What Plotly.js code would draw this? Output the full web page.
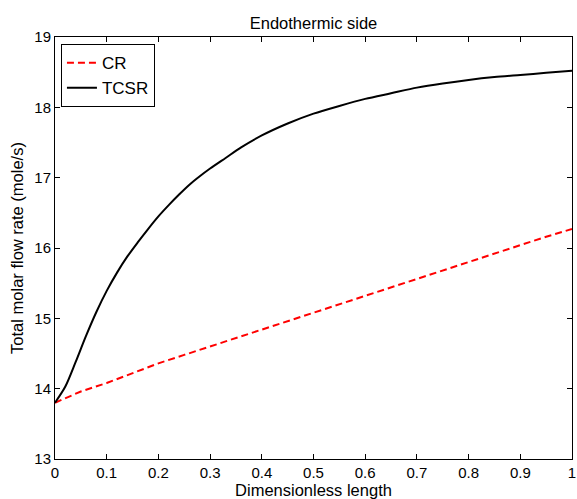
<!DOCTYPE html>
<html>
<head>
<meta charset="utf-8">
<script src="https://cdn.plot.ly/plotly-3.0.1.min.js"></script>
<style>html,body{margin:0;padding:0;background:#fff;}#chart{width:577px;height:499px;}</style>
</head>
<body>
<div id="chart"></div>
<script>
var crX = [0, 0.05, 0.1, 0.15, 0.2, 0.25, 0.3, 0.35, 0.4, 0.45, 0.5, 0.55, 0.6, 0.65, 0.7, 0.75, 0.8, 0.85, 0.9, 0.95, 1.0];
var crY = [13.80, 13.96, 14.08, 14.22, 14.36, 14.48, 14.60, 14.72, 14.84, 14.96, 15.08, 15.20, 15.32, 15.44, 15.56, 15.68, 15.81, 15.93, 16.05, 16.16, 16.27];
var tcsrX = [0, 0.02, 0.04, 0.06, 0.08, 0.10, 0.12, 0.14, 0.16, 0.18, 0.20, 0.22, 0.24, 0.26, 0.28, 0.30, 0.33, 0.36, 0.40, 0.45, 0.50, 0.55, 0.60, 0.65, 0.70, 0.75, 0.80, 0.85, 0.90, 0.95, 1.0];
var tcsrY = [13.80, 14.03, 14.38, 14.75, 15.09, 15.39, 15.65, 15.88, 16.08, 16.27, 16.45, 16.61, 16.76, 16.90, 17.02, 17.13, 17.28, 17.43, 17.60, 17.77, 17.91, 18.02, 18.12, 18.20, 18.28, 18.34, 18.39, 18.43, 18.46, 18.49, 18.52];
var xTicks = [0, 0.1, 0.2, 0.3, 0.4, 0.5, 0.6, 0.7, 0.8, 0.9, 1];
var xTickLabels = ['0', '0.1', '0.2', '0.3', '0.4', '0.5', '0.6', '0.7', '0.8', '0.9', '1'];
var yTicks = [13, 14, 15, 16, 17, 18, 19];

var fam = 'Liberation Sans, Arial, sans-serif';
var traces = [
  {x: crX, y: crY, name: 'CR', mode: 'lines', line: {color: '#ff0000', width: 2, dash: '7px,4px'}},
  {x: tcsrX, y: tcsrY, name: 'TCSR', mode: 'lines', line: {color: '#000000', width: 2, shape: 'spline', smoothing: 0.8}}
];
var axisCommon = {
  showgrid: false, zeroline: false, showline: true, linecolor: '#000', linewidth: 1,
  mirror: 'ticks', ticks: 'inside', ticklen: 5, tickcolor: '#000', tickwidth: 1,
  ticklabeloverflow: 'allow',
  tickfont: {family: fam, size: 15, color: '#000'}
};
var layout = {
  width: 577, height: 499,
  margin: {l: 55, r: 5, t: 37, b: 40},
  paper_bgcolor: '#fff', plot_bgcolor: '#fff',
  font: {family: fam, size: 15, color: '#000'},
  title: {text: 'Endothermic side', font: {family: fam, size: 16.5, color: '#000'},
    xref: 'paper', x: 0.5, xanchor: 'center', yref: 'container', y: 0.953, yanchor: 'middle'},
  xaxis: Object.assign({}, axisCommon, {
    range: [0, 1], tickvals: xTicks, ticktext: xTickLabels,
    title: {text: 'Dimensionless length', font: {family: fam, size: 16.5, color: '#000'}, standoff: 2}
  }),
  yaxis: Object.assign({}, axisCommon, {
    range: [13, 19], tickvals: yTicks,
    title: {text: 'Total molar flow rate (mole/s)', font: {family: fam, size: 16.5, color: '#000'}, standoff: 6}
  }),
  showlegend: true,
  legend: {x: 0.0115, y: 0.983, xanchor: 'left', yanchor: 'top', bordercolor: '#000', borderwidth: 1, bgcolor: '#fff',
    font: {family: fam, size: 17, color: '#000'}, tracegroupgap: 0}
};
Plotly.newPlot('chart', traces, layout, {displayModeBar: false, staticPlot: true});
</script>
</body>
</html>
